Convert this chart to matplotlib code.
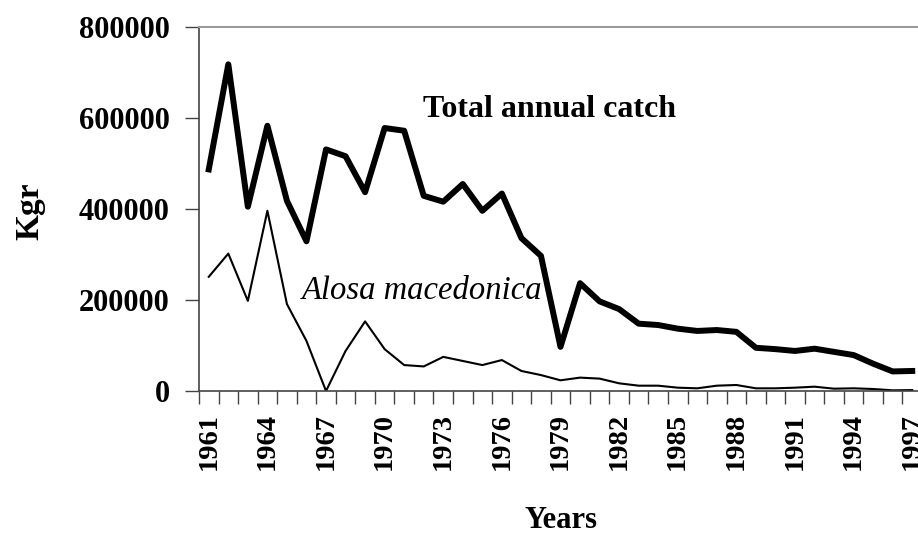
import matplotlib
matplotlib.use('Agg')
import matplotlib.pyplot as plt
import numpy as np

plt.rcParams['font.family'] = ['Liberation Serif', 'DejaVu Serif']

# Роки та улов (кг)
years = list(range(1961, 1998))
total_catch = [487000, 718000, 405000, 583000, 418000, 329000, 531000, 516000, 437000, 578000,
               572000, 429000, 416000, 455000, 396000, 434000, 336000, 297000, 97000, 237000,
               197000, 180000, 148000, 145000, 137000, 132000, 134000, 130000, 95000, 92000,
               88000, 93000, 86000, 79000, 60000, 43000, 44000]
alosa = [251000, 302000, 198000, 396000, 191000, 110000, 0, 88000, 153000, 92000,
         57000, 54000, 75000, 66000, 57000, 68000, 44000, 35000, 23500, 29400,
         27200, 16900, 11700, 11700, 7300, 5900, 11700, 13200, 5900, 5900,
         7300, 9500, 5100, 5900, 4400, 1500, 2000]
label_years = list(range(1961, 1998, 3))
y_ticks = [0, 200000, 400000, 600000, 800000]

W, H = 918, 536
fig = plt.figure(figsize=(W / 100, H / 100), dpi=100)
ax = fig.add_axes([199 / W, (H - 391) / H, (922 - 199) / W, (391 - 27) / H])

ax.plot(years, total_catch, color='black', lw=4.3, solid_joinstyle='round')
ax.plot(years, alosa, color='black', lw=1.5)

ax.set_xlim(1960.5, 1997.5)
ax.set_ylim(0, 800000)

ax.set_yticks(y_ticks)
ax.set_yticklabels([str(v) for v in y_ticks], fontsize=22, fontweight='bold')
ax.tick_params(axis='y', direction='out', length=10, width=1, color='#444444', pad=11)

# підписи кожні 3 роки, риски між категоріями
ax.set_xticks(label_years)
ax.set_xticklabels([str(y) for y in label_years], rotation=90, fontsize=20.5, fontweight='bold')
ax.set_xticks(np.arange(1960.5, 1998, 1), minor=True)
ax.tick_params(axis='x', which='major', length=0, pad=16)
ax.tick_params(axis='x', which='minor', direction='out', length=9, width=1, color='#444444')

for s in ['left', 'bottom']:
    ax.spines[s].set_color('#444444')
    ax.spines[s].set_linewidth(1.2)
ax.spines['top'].set_color('#999999')
ax.spines['top'].set_linewidth(1.5)
ax.spines['right'].set_visible(False)

ax.text(1971.94, 601800, 'Total annual catch', fontsize=23, fontweight='bold',
        ha='left', va='baseline')
ax.text(1965.74, 202600, 'Alosa macedonica', fontsize=23.5, style='italic',
        ha='left', va='baseline')

fig.text(30 / W, 1 - 211 / H, 'Kgr', rotation=90, fontsize=24, fontweight='bold',
         ha='center', va='center')
fig.text(561 / W, 1 - 520 / H, 'Years', fontsize=22, fontweight='bold',
         ha='center', va='center')

fig.savefig('out.png', dpi=100)
